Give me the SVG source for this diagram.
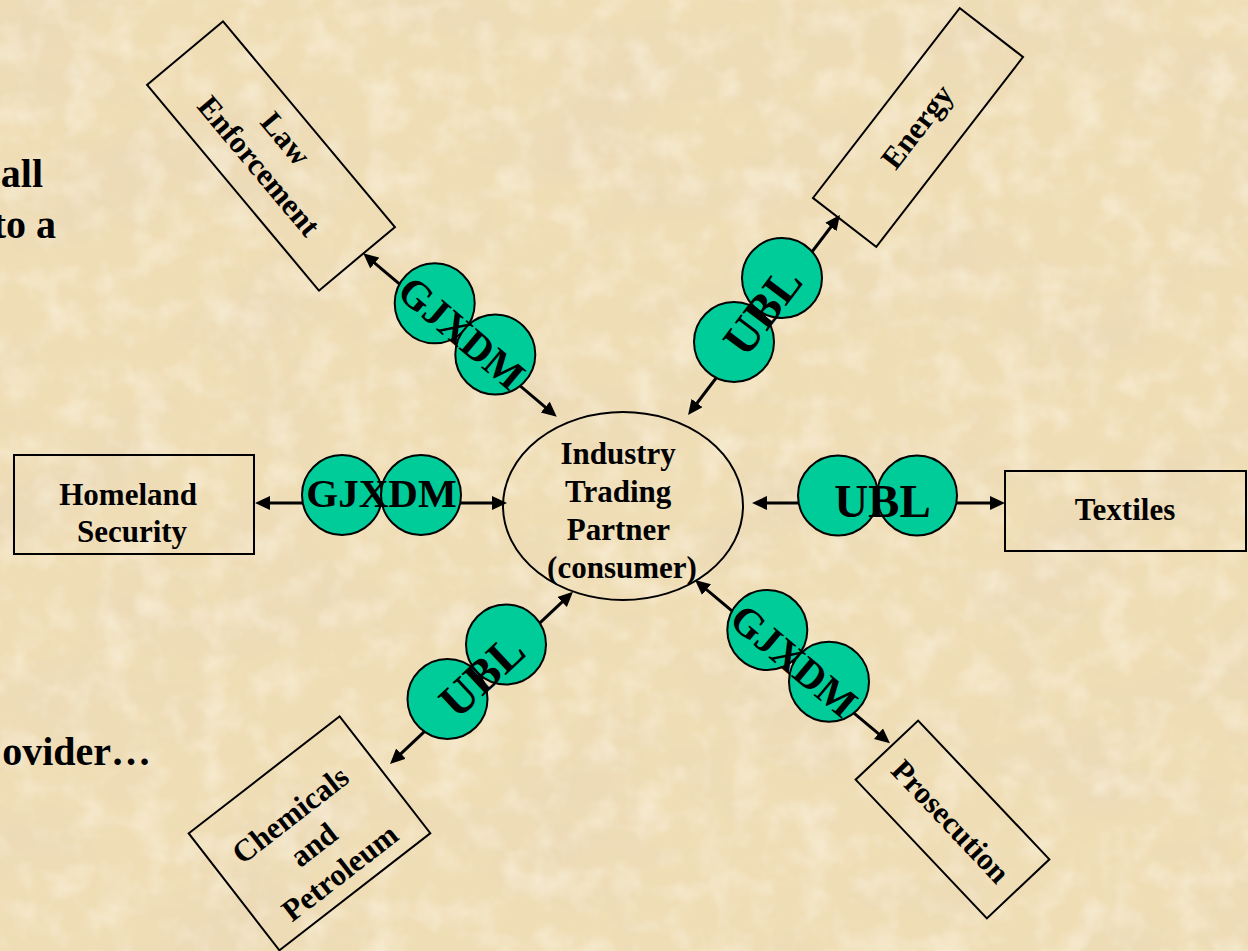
<svg xmlns="http://www.w3.org/2000/svg" width="1248" height="951" viewBox="0 0 1248 951">
  <defs>
    <style>
      .lbl { font-family: "Liberation Serif", "Times New Roman", serif; font-weight: bold; fill: #000; }
      .box { fill: none; stroke: #000; stroke-width: 2; }
      .std { fill: #00CC99; stroke: #000; stroke-width: 2; }
      .link { fill: none; stroke: #000; stroke-width: 3; marker-start: url(#head); marker-end: url(#head); }
      .t31 { font-size: 31px; }
      .t40 { font-size: 40px; }
      .tStd { font-size: 41px; }
      .tUbl { font-size: 47px; }
    </style>
    <!-- arrowhead: tip sits 10px past the line end -->
    <marker id="head" markerUnits="userSpaceOnUse" markerWidth="16" markerHeight="15" refX="5" refY="7" orient="auto-start-reverse" viewBox="0 0 16 15">
      <path d="M0,0 L15,7 L0,14 Z" fill="#000"/>
    </marker>
    <!-- mottled parchment -->
    <filter id="paper" filterUnits="userSpaceOnUse" x="0" y="0" width="1248" height="951">
      <feTurbulence type="fractalNoise" baseFrequency="0.006 0.009" numOctaves="5" seed="11" result="n"/>
      <feColorMatrix in="n" type="matrix" values="0 0 0 0 0.82  0 0 0 0 0.69  0 0 0 0 0.50  1.4 0 0 0 -0.64"/>
    </filter>
    <filter id="grain" filterUnits="userSpaceOnUse" x="0" y="0" width="1248" height="951">
      <feTurbulence type="fractalNoise" baseFrequency="0.03" numOctaves="3" seed="5" result="g"/>
      <feColorMatrix in="g" type="matrix" values="0 0 0 0 1  0 0 0 0 0.97  0 0 0 0 0.88  0 1.0 0 0 -0.45"/>
    </filter>
  </defs>

  <!-- background -->
  <rect x="0" y="0" width="1248" height="951" fill="#EFDDB5"/>
  <rect x="0" y="0" width="1248" height="951" filter="url(#paper)"/>
  <rect x="0" y="0" width="1248" height="951" filter="url(#grain)"/>

  <!-- slide body text clipped at the left edge -->
  <g id="body-text" class="lbl t40">
    <text x="43" y="187" text-anchor="end">all</text>
    <text x="56" y="238" text-anchor="end">to a</text>
    <text x="151" y="765" text-anchor="end">ovider…</text>
  </g>

  <!-- connectors -->
  <g id="connectors">
    <line class="link" x1="265" y1="503" x2="497" y2="503"/>
    <line class="link" x1="762" y1="503" x2="995" y2="503"/>
    <line class="link" x1="370.9" y1="259.8" x2="549.1" y2="410.3"/>
    <line class="link" x1="833.9" y1="223.0" x2="694.1" y2="407.0"/>
    <line class="link" x1="565.7" y1="598.6" x2="397.3" y2="757.1"/>
    <line class="link" x1="702.7" y1="586.4" x2="882.3" y2="736.9"/>
  </g>

  <!-- standards on each link -->
  <g id="std-homeland">
    <circle class="std" cx="342" cy="495" r="40"/>
    <circle class="std" cx="421" cy="495" r="40"/>
    <text class="lbl tStd" x="381.5" y="507" text-anchor="middle">GJXDM</text>
  </g>
  <g id="std-textiles">
    <circle class="std" cx="838" cy="495.5" r="40"/>
    <circle class="std" cx="917" cy="495.5" r="40"/>
    <text class="lbl tUbl" x="882.5" y="517" text-anchor="middle">UBL</text>
  </g>
  <g id="std-law">
    <circle class="std" cx="434.7" cy="303.3" r="40"/>
    <circle class="std" cx="495.3" cy="354.5" r="40"/>
    <text class="lbl tStd" transform="translate(465 329) rotate(40.2)" x="0" y="19" text-anchor="middle">GJXDM</text>
  </g>
  <g id="std-energy">
    <circle class="std" cx="782" cy="278" r="40"/>
    <circle class="std" cx="734" cy="342" r="40"/>
    <text class="lbl tUbl" transform="translate(758 310) rotate(-53)" x="2" y="20" text-anchor="middle">UBL</text>
  </g>
  <g id="std-chemicals">
    <circle class="std" cx="506" cy="644.5" r="40"/>
    <circle class="std" cx="447.5" cy="699" r="40"/>
    <text class="lbl tUbl" transform="translate(476.8 671.8) rotate(-43)" x="1" y="22" text-anchor="middle">UBL</text>
  </g>
  <g id="std-prosecution">
    <circle class="std" cx="767.3" cy="630" r="40"/>
    <circle class="std" cx="829" cy="681.7" r="40"/>
    <text class="lbl tStd" transform="translate(798 656) rotate(40)" x="0" y="20" text-anchor="middle">GJXDM</text>
  </g>

  <!-- hub -->
  <g id="node-hub">
    <ellipse class="box" cx="623" cy="506" rx="120" ry="94"/>
    <text class="lbl t31" text-anchor="middle">
      <tspan x="622" y="464">Industry</tspan>
      <tspan x="622" y="502">Trading</tspan>
      <tspan x="622" y="540">Partner</tspan>
      <tspan x="622" y="578">(consumer)</tspan>
    </text>
  </g>

  <!-- partner domains -->
  <g id="node-homeland">
    <rect class="box" x="14" y="455" width="240" height="99"/>
    <text class="lbl t31" text-anchor="middle">
      <tspan x="132" y="505">Homeland</tspan>
      <tspan x="132" y="542">Security</tspan>
    </text>
  </g>
  <g id="node-textiles">
    <rect class="box" x="1005" y="471" width="241" height="80"/>
    <text class="lbl t31" x="1125" y="520" text-anchor="middle">Textiles</text>
  </g>
  <g id="node-law" transform="translate(271 156) rotate(50.1)">
    <rect class="box" x="-134" y="-49.5" width="268" height="99"/>
    <text class="lbl t31" text-anchor="middle">
      <tspan x="0" y="-12">Law</tspan>
      <tspan x="0" y="26">Enforcement</tspan>
    </text>
  </g>
  <g id="node-energy" transform="translate(918 127.5) rotate(-52.3)">
    <rect class="box" x="-120" y="-40" width="240" height="80"/>
    <text class="lbl t31" x="0" y="9" text-anchor="middle">Energy</text>
  </g>
  <g id="node-chemicals" transform="translate(309.5 833.3) rotate(-37.8)">
    <rect class="box" x="-95.5" y="-74" width="191" height="148"/>
    <text class="lbl t31" text-anchor="middle">
      <tspan x="0" y="-16">Chemicals</tspan>
      <tspan x="0" y="22">and</tspan>
      <tspan x="0" y="60">Petroleum</tspan>
    </text>
  </g>
  <g id="node-prosecution" transform="translate(952.5 819.5) rotate(46.6)">
    <rect class="box" x="-95.5" y="-43" width="191" height="86"/>
    <text class="lbl t31" x="0" y="13" text-anchor="middle">Prosecution</text>
  </g>
</svg>
